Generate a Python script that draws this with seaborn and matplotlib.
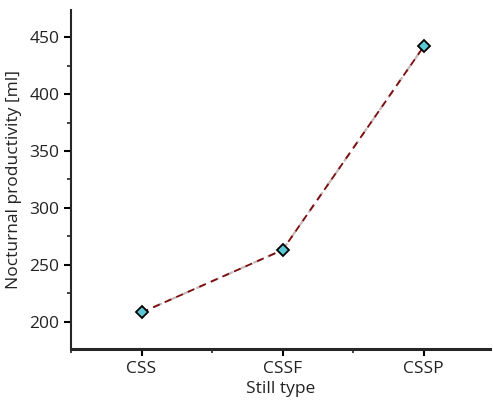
import seaborn as sns
import pandas as pd
import matplotlib.pyplot as plt
from matplotlib.ticker import MultipleLocator, FixedLocator

still_types = ["CSS", "CSSF", "CSSP"]
productivity = [208, 263, 442]

df = pd.DataFrame({"Still type": still_types, "Productivity": productivity})

sns.set_style("ticks")
plt.rcParams['font.family'] = ['Open Sans', 'DejaVu Sans']

fig = plt.figure(figsize=(4.93, 4.01), dpi=100)
ax = fig.add_axes([0.144, 0.130, 0.850, 0.845])

# faint grey shadow under the dashed red line
sns.lineplot(data=df, x="Still type", y="Productivity", ax=ax, color="#c8b8b8",
             linewidth=1.6, linestyle=(1, (4, 3)), sort=False)
sns.lineplot(data=df, x="Still type", y="Productivity", ax=ax, color="#7a0c0c",
             linewidth=1.3, linestyle=(0, (4, 3)), marker="D", markersize=6.5,
             markerfacecolor="#5cc8d4", markeredgecolor="black", markeredgewidth=1.3,
             sort=False)

ax.set_xlim(-0.5, 2.47)
ax.set_ylim(176, 474)
ax.yaxis.set_major_locator(MultipleLocator(50))
ax.yaxis.set_minor_locator(MultipleLocator(25))
ax.xaxis.set_minor_locator(FixedLocator([-0.5, 0.5, 1.5]))
ax.tick_params(axis="both", which="major", length=5, width=1.5, labelsize=12.5,
               colors="black", labelcolor="#222222")
ax.tick_params(axis="both", which="minor", length=3, width=1.2)
ax.set_xlabel("Still type", fontsize=12.5, labelpad=3, color="#222222")
ax.set_ylabel("Nocturnal productivity [ml]", fontsize=12.5, labelpad=5, color="#222222")
sns.despine(ax=ax)
ax.spines["left"].set_linewidth(1.5)
ax.spines["bottom"].set_linewidth(2.2)

fig.savefig("out.png", dpi=100)
